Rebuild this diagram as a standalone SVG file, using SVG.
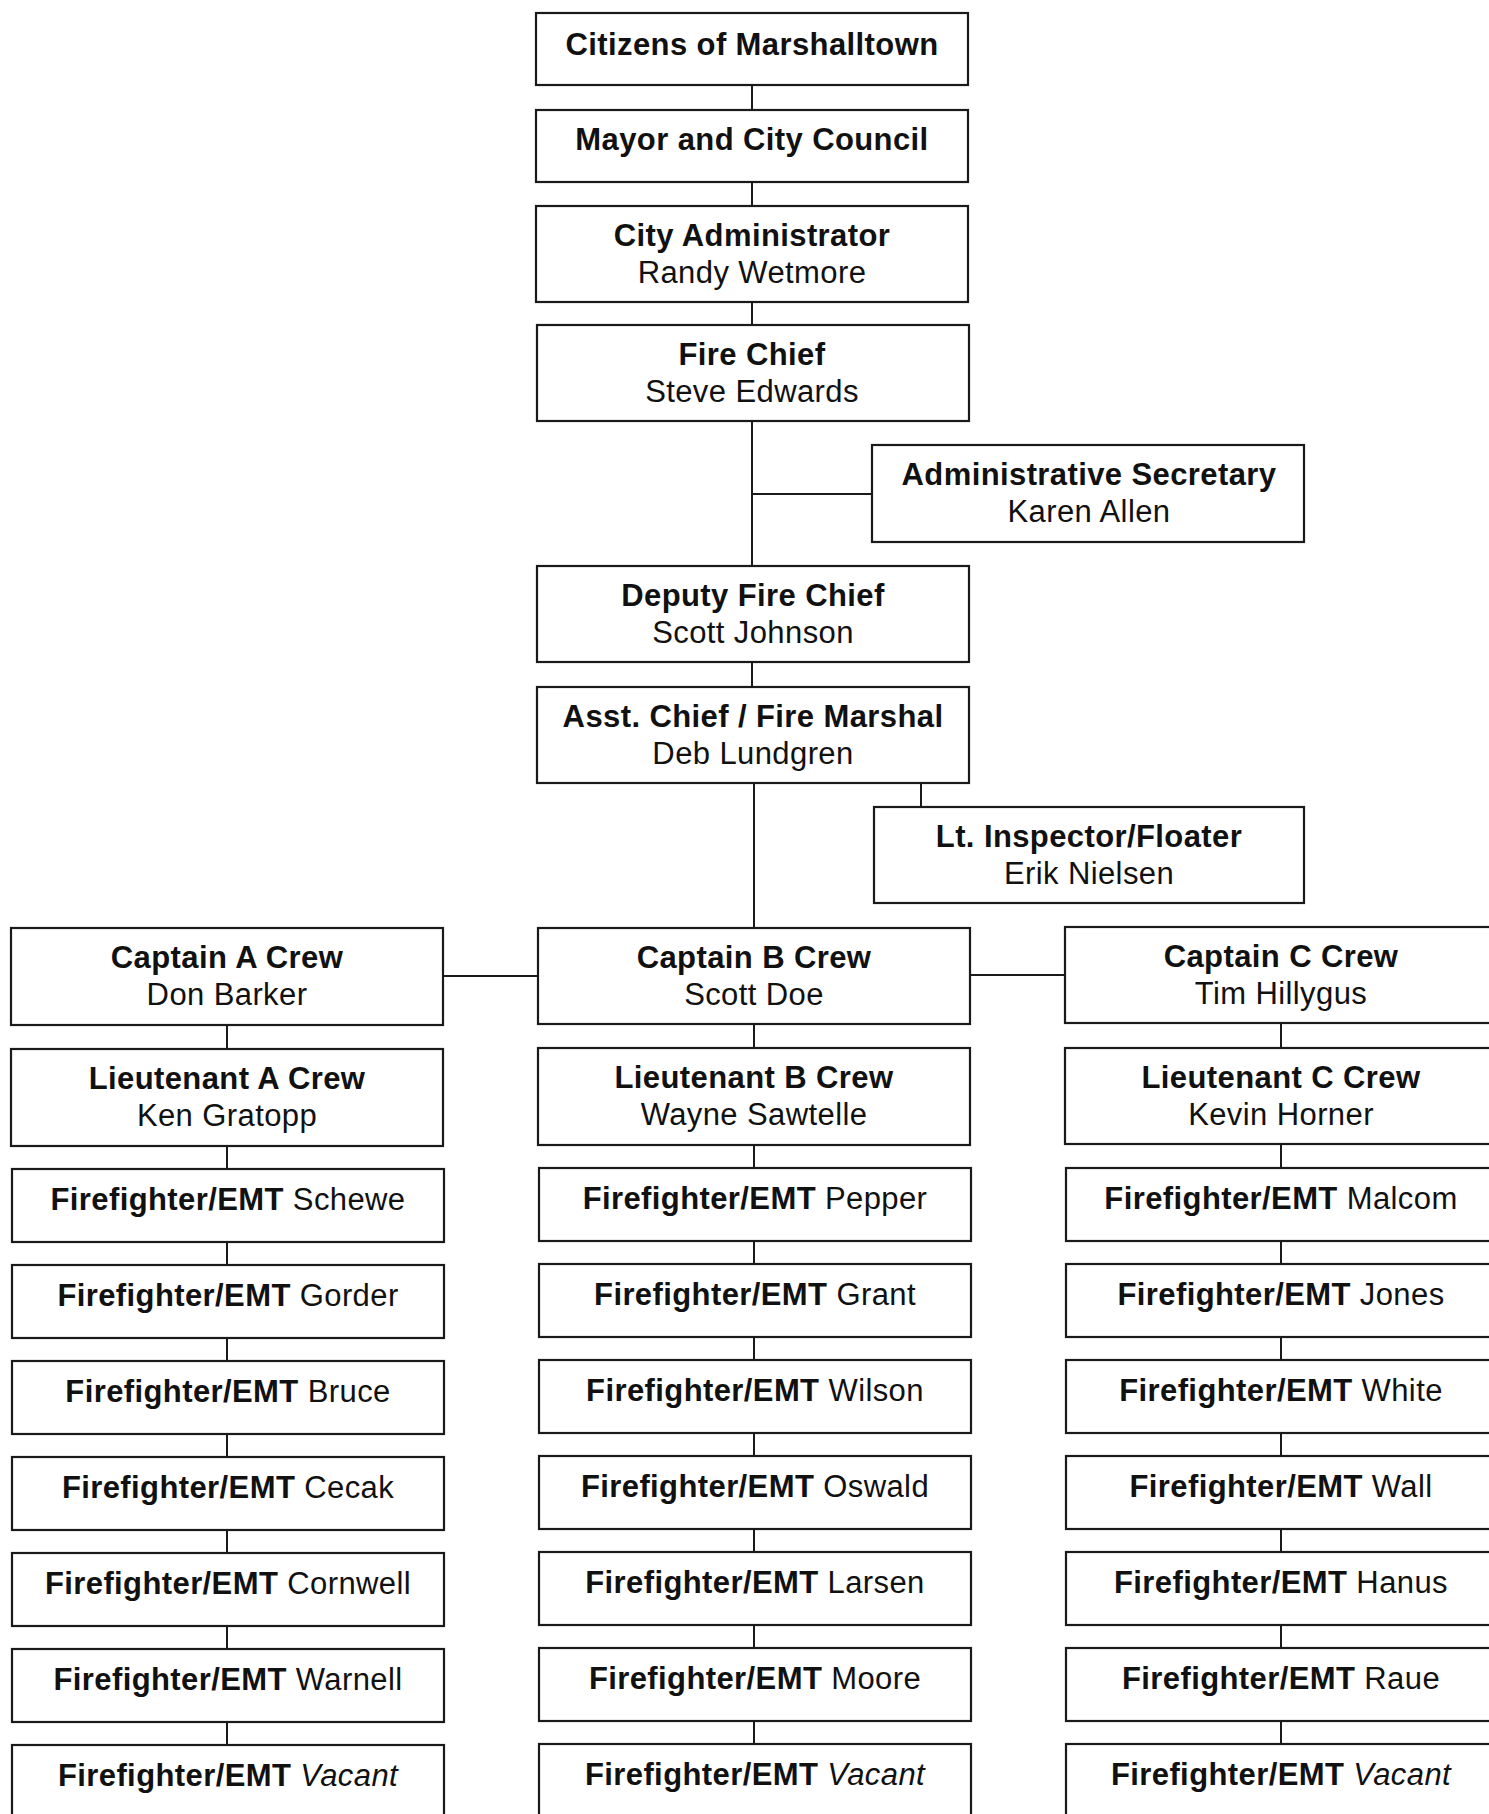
<svg xmlns="http://www.w3.org/2000/svg" width="1489" height="1814" viewBox="0 0 1489 1814">
<style>
.box{fill:#fff;stroke:#1a1a1a;stroke-width:2.2}
.ln{stroke:#1a1a1a;stroke-width:2;fill:none}
text{font-family:"Liberation Sans",Arial,sans-serif;font-size:31px;fill:#111;text-anchor:middle;letter-spacing:0.4px}
.b{font-weight:bold}
.i{font-style:italic}
</style>
<rect width="1489" height="1814" fill="#fff"/>
<g id="connectors">
<path class="ln" d="M752 85V110M752 182V206M752 302V325M752 421V566M752 494H872M752 662V687M754 783V928M921 783V807M443 976H538M970 975H1065"/>
<path class="ln" d="M227 1025V1049M227 1146V1169M227 1242V1265M227 1338V1361M227 1434V1457M227 1530V1553M227 1626V1649M227 1722V1745"/>
<path class="ln" d="M754 1024V1048M754 1145V1168M754 1241V1264M754 1337V1360M754 1433V1456M754 1529V1552M754 1625V1648M754 1721V1744"/>
<path class="ln" d="M1281 1023V1048M1281 1144V1168M1281 1241V1264M1281 1337V1360M1281 1433V1456M1281 1529V1552M1281 1625V1648M1281 1721V1744"/>
</g>
<g id="citizens"><rect class="box" x="536" y="13" width="432" height="72"/><text class="b" x="752" y="55">Citizens of Marshalltown</text></g>
<g id="mayor"><rect class="box" x="536" y="110" width="432" height="72"/><text class="b" x="752" y="150">Mayor and City Council</text></g>
<g id="city-admin"><rect class="box" x="536" y="206" width="432" height="96"/><text class="b" x="752" y="246">City Administrator</text><text x="752" y="283">Randy Wetmore</text></g>
<g id="fire-chief"><rect class="box" x="537" y="325" width="432" height="96"/><text class="b" x="752" y="365">Fire Chief</text><text x="752" y="402">Steve Edwards</text></g>
<g id="admin-sec"><rect class="box" x="872" y="445" width="432" height="97"/><text class="b" x="1089" y="485">Administrative Secretary</text><text x="1089" y="522">Karen Allen</text></g>
<g id="deputy"><rect class="box" x="537" y="566" width="432" height="96"/><text class="b" x="753" y="606">Deputy Fire Chief</text><text x="753" y="643">Scott Johnson</text></g>
<g id="asst-chief"><rect class="box" x="537" y="687" width="432" height="96"/><text class="b" x="753" y="727">Asst. Chief / Fire Marshal</text><text x="753" y="764">Deb Lundgren</text></g>
<g id="lt-inspector"><rect class="box" x="874" y="807" width="430" height="96"/><text class="b" x="1089" y="847">Lt. Inspector/Floater</text><text x="1089" y="884">Erik Nielsen</text></g>

<g id="captain-a"><rect class="box" x="11" y="928" width="432" height="97"/><text class="b" x="227" y="968">Captain A Crew</text><text x="227" y="1005">Don Barker</text></g>
<g id="captain-b"><rect class="box" x="538" y="928" width="432" height="96"/><text class="b" x="754" y="968">Captain B Crew</text><text x="754" y="1005">Scott Doe</text></g>
<g id="captain-c"><rect class="box" x="1065" y="927" width="432" height="96"/><text class="b" x="1281" y="967">Captain C Crew</text><text x="1281" y="1004">Tim Hillygus</text></g>

<g id="lt-a"><rect class="box" x="11" y="1049" width="432" height="97"/><text class="b" x="227" y="1089">Lieutenant A Crew</text><text x="227" y="1126">Ken Gratopp</text></g>
<g id="lt-b"><rect class="box" x="538" y="1048" width="432" height="97"/><text class="b" x="754" y="1088">Lieutenant B Crew</text><text x="754" y="1125">Wayne Sawtelle</text></g>
<g id="lt-c"><rect class="box" x="1065" y="1048" width="432" height="96"/><text class="b" x="1281" y="1088">Lieutenant C Crew</text><text x="1281" y="1125">Kevin Horner</text></g>

<g id="ff-schewe"><rect class="box" x="12" y="1169" width="432" height="73"/><text x="228" y="1210"><tspan class="b">Firefighter/EMT</tspan> Schewe</text></g>
<g id="ff-gorder"><rect class="box" x="12" y="1265" width="432" height="73"/><text x="228" y="1306"><tspan class="b">Firefighter/EMT</tspan> Gorder</text></g>
<g id="ff-bruce"><rect class="box" x="12" y="1361" width="432" height="73"/><text x="228" y="1402"><tspan class="b">Firefighter/EMT</tspan> Bruce</text></g>
<g id="ff-cecak"><rect class="box" x="12" y="1457" width="432" height="73"/><text x="228" y="1498"><tspan class="b">Firefighter/EMT</tspan> Cecak</text></g>
<g id="ff-cornwell"><rect class="box" x="12" y="1553" width="432" height="73"/><text x="228" y="1594"><tspan class="b">Firefighter/EMT</tspan> Cornwell</text></g>
<g id="ff-warnell"><rect class="box" x="12" y="1649" width="432" height="73"/><text x="228" y="1690"><tspan class="b">Firefighter/EMT</tspan> Warnell</text></g>
<g id="ff-vacant-a"><rect class="box" x="12" y="1745" width="432" height="73"/><text x="228" y="1786"><tspan class="b">Firefighter/EMT</tspan> <tspan class="i">Vacant</tspan></text></g>

<g id="ff-pepper"><rect class="box" x="539" y="1168" width="432" height="73"/><text x="755" y="1209"><tspan class="b">Firefighter/EMT</tspan> Pepper</text></g>
<g id="ff-grant"><rect class="box" x="539" y="1264" width="432" height="73"/><text x="755" y="1305"><tspan class="b">Firefighter/EMT</tspan> Grant</text></g>
<g id="ff-wilson"><rect class="box" x="539" y="1360" width="432" height="73"/><text x="755" y="1401"><tspan class="b">Firefighter/EMT</tspan> Wilson</text></g>
<g id="ff-oswald"><rect class="box" x="539" y="1456" width="432" height="73"/><text x="755" y="1497"><tspan class="b">Firefighter/EMT</tspan> Oswald</text></g>
<g id="ff-larsen"><rect class="box" x="539" y="1552" width="432" height="73"/><text x="755" y="1593"><tspan class="b">Firefighter/EMT</tspan> Larsen</text></g>
<g id="ff-moore"><rect class="box" x="539" y="1648" width="432" height="73"/><text x="755" y="1689"><tspan class="b">Firefighter/EMT</tspan> Moore</text></g>
<g id="ff-vacant-b"><rect class="box" x="539" y="1744" width="432" height="73"/><text x="755" y="1785"><tspan class="b">Firefighter/EMT</tspan> <tspan class="i">Vacant</tspan></text></g>

<g id="ff-malcom"><rect class="box" x="1066" y="1168" width="432" height="73"/><text x="1281" y="1209"><tspan class="b">Firefighter/EMT</tspan> Malcom</text></g>
<g id="ff-jones"><rect class="box" x="1066" y="1264" width="432" height="73"/><text x="1281" y="1305"><tspan class="b">Firefighter/EMT</tspan> Jones</text></g>
<g id="ff-white"><rect class="box" x="1066" y="1360" width="432" height="73"/><text x="1281" y="1401"><tspan class="b">Firefighter/EMT</tspan> White</text></g>
<g id="ff-wall"><rect class="box" x="1066" y="1456" width="432" height="73"/><text x="1281" y="1497"><tspan class="b">Firefighter/EMT</tspan> Wall</text></g>
<g id="ff-hanus"><rect class="box" x="1066" y="1552" width="432" height="73"/><text x="1281" y="1593"><tspan class="b">Firefighter/EMT</tspan> Hanus</text></g>
<g id="ff-raue"><rect class="box" x="1066" y="1648" width="432" height="73"/><text x="1281" y="1689"><tspan class="b">Firefighter/EMT</tspan> Raue</text></g>
<g id="ff-vacant-c"><rect class="box" x="1066" y="1744" width="432" height="73"/><text x="1281" y="1785"><tspan class="b">Firefighter/EMT</tspan> <tspan class="i">Vacant</tspan></text></g>
</svg>
